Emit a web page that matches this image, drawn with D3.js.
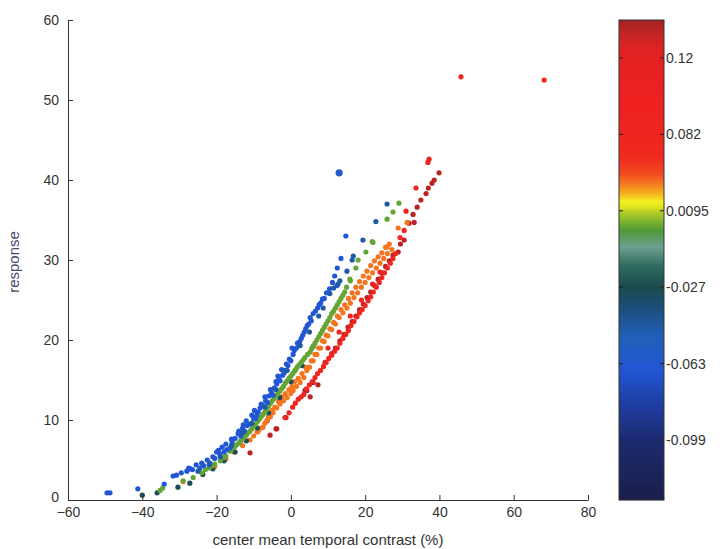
<!DOCTYPE html>
<html>
<head>
<meta charset="utf-8">
<script src="https://cdn.jsdelivr.net/npm/d3@7"></script>
<style>
  body { margin: 0; background: #fff; }
  svg text { font-family: "Liberation Sans", Arial, sans-serif; }
</style>
</head>
<body>
<svg id="chart" width="720" height="549"></svg>
<script>
// x ticks, y ticks, colorbar ticks
const xTicks = [-60, -40, -20, 0, 20, 40, 60, 80];
const yTicks = [0, 10, 20, 30, 40, 50, 60];
const cbTicks = [-0.099, -0.063, -0.027, 0.0095, 0.082, 0.12];
const cbLabels = ['-0.099', '-0.063', '-0.027', '0.0095', '0.082', '0.12'];

// colormap stops (value -> colour)
const cmapValues = [-0.127, -0.100, -0.080, -0.066, -0.050, -0.038, -0.027, -0.017, -0.008, 0.000, 0.004, 0.012, 0.018, 0.026, 0.035, 0.045, 0.060, 0.100, 0.125, 0.132, 0.139];
const cmapColors = ['#1a1f4a', '#1c2a6e', '#1f40a8', '#2156d4', '#2060b8', '#1d4f80', '#1b4a4c', '#2e6a5e', '#6e9e90', '#4e9a3a', '#7ab030', '#d8e020', '#f4f020', '#f4b020', '#f47a20', '#f24a20', '#f02a1e', '#ee2020', '#e02222', '#c42424', '#a02424'];

// scatter points [contrast %, response], grouped by colour value
const teal = [[-40,0.6],[-36,0.9],[-30.4,1.6],[-27.2,2.1],[-23.7,3.2],[-21,3.9],[-18,4.9],[-15,6.0],[-12,7.4],[-9,9.0],[-6,10.9],[-3,12.8],[0,14.8],[3,16.8],[6,19.2]];
const green = [[-35.2,1.2],[-34.5,1.5],[-29,2.4],[-26.3,2.8],[-24,3.4],[-23,3.8],[-22,4.0],[-21,4.3],[-20.5,4.5],[-19,4.9],[-18,5.3],[-17.5,5.5],[-16.4,6.1],[-16,6.4],[-15.2,6.6],[-14.6,6.9],[-14,7.1],[-13.5,7.4],[-13,7.6],[-12.5,7.9],[-12,8.1],[-11.5,8.4],[-11,8.6],[-10.5,8.9],[-10,9.2],[-9.5,9.5],[-9,9.8],[-8.5,10.1],[-8,10.4],[-7.5,10.7],[-7,11.0],[-6.5,11.3],[-6,11.7],[-5.5,12.1],[-5,12.4],[-4.5,12.7],[-4,13.0],[-3.5,13.3],[-3,13.6],[-2.5,13.9],[-2,14.2],[-1.5,14.6],[-1,14.9],[-0.5,15.2],[0,15.5],[0.5,15.8],[1,16.1],[1.3,16.3],[1.7,16.6],[2.2,16.9],[2.8,17.2],[3.3,17.5],[3.8,17.8],[4.5,18.2],[5.2,18.5],[5.6,18.9],[6,19.2],[6.5,19.6],[7,20.0],[7.5,20.4],[8,20.8],[8.5,21.2],[9,21.6],[9.5,22.0],[10,22.4],[10.5,22.8],[11,23.3],[11.5,23.6],[12,24.0],[12.5,24.4],[13,24.8],[13.5,25.2],[14,25.6],[14.5,26.0],[15,26.6],[16,27.4],[15.9,27.6],[17.5,29.0],[18.1,30],[20.2,31],[21.9,32.3],[22.1,32.2],[25.9,35.1],[27.5,36],[29.1,37.1]];
const blue = [[-49.5,0.9],[-48.7,0.9],[-41.2,1.4],[-34.1,2.0],[-31.7,3.0],[-30.8,3.1],[-29.5,3.4],[-28,3.6],[-27.5,4.0],[-27,3.9],[-26.5,3.8],[-25.5,4.4],[-24.5,4.0],[-24,4.6],[-23.5,4.3],[-22.5,5.0],[-21.8,4.6],[-21,5.4],[-20.5,5.2],[-20,6.0],[-19.5,6.2],[-19.1,5.7],[-18.5,6.6],[-18,6.0],[-17.5,7.0],[-17.2,6.3],[-16.4,6.5],[-16,7.6],[-15.8,7.2],[-15,7.7],[-14.2,8.3],[-14,8.6],[-13.5,8.0],[-13,9.0],[-12.8,9.4],[-12.5,8.6],[-12,9.9],[-11.8,9.3],[-11,9.5],[-10.5,10.6],[-10,10.2],[-9.8,11.2],[-9.5,10.2],[-9.2,10.6],[-8.8,11.0],[-8.3,11.5],[-8,12.0],[-7.5,11.8],[-7,12.9],[-6.8,12.4],[-6.3,12.2],[-6,13.0],[-5.5,13.8],[-5.2,13.4],[-4.8,13.1],[-4.5,14.0],[-4,14.8],[-3.8,14.5],[-3.5,15.5],[-3.2,15.2],[-2.9,14.9],[-2.5,16.3],[-2.2,15.6],[-1.8,15.9],[-1.5,16.2],[-1.2,17.0],[-0.8,16.8],[-0.4,17.6],[0,17.4],[0.3,19.0],[0.6,18.2],[0.9,18.7],[1.5,19.0],[1.8,19.6],[2.4,19.8],[2.8,20.2],[3.2,20.6],[3.6,21.0],[4.0,21.4],[4.4,21.8],[4.8,22.0],[5.2,22.8],[5.5,22.4],[6.0,23.3],[6.6,23.6],[7.2,24.0],[7.6,24.4],[8.0,24.6],[8.5,25.1],[9.0,25.2],[9.6,25.9],[10.4,26.4],[11.2,27.2],[11.8,28],[12.4,26.8],[12.5,29],[13.5,30.2],[14.8,33.0]];
const darkBlue = [[-25,3.6],[-22,4.4],[-19,5.4],[-16,6.8],[-13,8.4],[-10.5,9.6],[-7,11.6],[-4,13.8],[-1,16.2],[2.5,19.3],[5,21],[7.5,23],[8.7,24],[10.5,25.8],[11.5,26.5],[12.7,27],[13.2,27.4],[15.1,28.6],[16.5,30],[16.8,30.5],[19.4,32.5],[22.9,34.8],[25.9,37]];
const bigDot = [[13,40.9]];
const orange = [[-29,2.3],[-20.5,4.2],[-17.5,5.1],[-15.3,6.0],[-13,6.8],[-11,7.5],[-10,8.0],[-9.1,8.5],[-8.8,8.6],[-8,9.0],[-7.5,9.1],[-7,9.6],[-6.4,10],[-6,10.4],[-5.5,10.4],[-5,11.2],[-4.8,10.9],[-4.3,11.6],[-3.8,11.5],[-3.3,12.3],[-2.9,12],[-2.4,12.9],[-2,12.4],[-1.5,13.3],[-1,12.8],[-0.5,13.8],[0,13.3],[0.3,14.2],[0.6,13.7],[1,14.8],[1.5,14.2],[2,15.2],[2.5,14.7],[3,15.8],[3.5,15.3],[4,16.6],[4.3,16.2],[5,16.6],[5.5,17.4],[6,17.4],[6.5,18.2],[7,18.2],[7.5,19.0],[8,19.0],[8.5,19.9],[9,19.8],[9.5,20.6],[10,20.5],[10.5,21.4],[11,21.3],[11.5,22.2],[12,22.0],[12.5,23.0],[13,22.8],[13.5,23.8],[14,23.4],[14.5,24.4],[15.1,24],[15.5,25.2],[16,24.6],[16.5,25.9],[17,25.3],[17.5,26.6],[18,25.9],[18.5,27.3],[19,26.6],[19.5,28.0],[20,27.2],[20.5,28.6],[21,27.8],[21.5,29.3],[22,28.4],[22.5,29.9],[23,29.0],[23.5,30.4],[24,29.6],[24.5,30.9],[25,30.2],[25.5,31.6],[26,30.8],[26.5,32.0],[27.2,31.3],[25.9,31.6],[28.9,34],[31.3,34.7]];
const red = [[-1.6,10.3],[-0.5,10.9],[0.5,11.6],[1.2,12.1],[2,12.6],[2.8,12.9],[3.5,13.2],[4.2,13.9],[5,14.4],[5.8,14.8],[6.5,15.3],[7.2,15.8],[8,16.2],[8.8,16.7],[9.5,17.2],[10,19],[10.2,17.7],[11,18.1],[11.8,18.6],[12.5,19.0],[13,21],[13.2,19.6],[14,20.2],[14.8,20.7],[15.5,21.2],[16,23],[16.2,21.8],[17,22.3],[17.8,22.9],[18.5,23.4],[19,25],[19.2,23.8],[20,24.3],[20.8,24.9],[21.5,25.4],[22,27],[22.2,26.0],[23,26.6],[23.8,27.2],[24,28.5],[24.5,27.8],[25.2,28.4],[26,29.0],[26.8,29.6],[27.5,30.2],[28.2,30.8],[29.4,32.8],[30.5,33.7],[31,36.1],[33.7,39],[36.9,42.2],[37.2,42.6],[45.8,52.9],[68.2,52.5]];
const darkRed = [[-11,5.9],[-6.4,9.9],[-5.6,8.1],[-4,8.9],[-3.8,8.9],[-1.3,10.3],[3.8,13.7],[4.3,13.7],[5.2,12.9],[6,14.7],[7.3,14.4],[9.2,17.2],[11,18.3],[12,19],[13.2,19.9],[14.3,20.7],[15.4,21.6],[16.5,22.3],[17.5,23],[18.5,23.8],[19.5,24.5],[20.5,25.3],[21.5,26],[22.5,26.8],[23.5,27.6],[24.5,28.4],[25.5,29.2],[26.5,29.9],[27.5,30.6],[28.9,31],[29.5,32],[30.5,32.5],[31.8,34.6],[33.2,34.7],[32.9,35.7],[34,36.6],[35,37.5],[36.4,38.3],[37,39],[38,39.6],[38.6,40],[39.9,40.9]];

const series = [
  { pts: darkRed, c: 0.134, r: 2.6 },
  { pts: red, c: 0.08, r: 2.6 },
  { pts: orange, c: 0.036, r: 2.6 },
  { pts: teal, c: -0.03, r: 2.6 },
  { pts: green, c: 0.002, r: 2.6 },
  { pts: blue, c: -0.066, r: 2.6 },
  { pts: darkBlue, c: -0.046, r: 2.6 },
  { pts: bigDot, c: -0.06, r: 3.6 }
];

const svg = d3.select('#chart');
const x = d3.scaleLinear().domain([-60, 80]).range([68, 588]);
const y = d3.scaleLinear().domain([0, 60]).range([500, 20]);
const cmap = d3.scaleLinear().domain(cmapValues).range(cmapColors).clamp(true);

// points
series.forEach(s => {
  svg.append('g').selectAll('circle')
    .data(s.pts)
    .join('circle')
    .attr('cx', d => x(d[0]))
    .attr('cy', d => y(d[1]))
    .attr('r', s.r)
    .attr('fill', cmap(s.c));
});

// axes, MATLAB style ticks pointing in
const xAxis = svg.append('g')
  .attr('transform', 'translate(0,500)')
  .call(d3.axisBottom(x).tickValues(xTicks).tickSizeInner(-5).tickSizeOuter(0).tickPadding(7));
const yAxis = svg.append('g')
  .attr('transform', 'translate(68,0)')
  .call(d3.axisLeft(y).tickValues(yTicks).tickSizeInner(-5).tickSizeOuter(0).tickPadding(9));

[xAxis, yAxis].forEach(a => {
  a.select('.domain').attr('stroke', '#333').attr('stroke-width', 1);
  a.selectAll('.tick line').attr('stroke', '#333');
  a.selectAll('.tick text').attr('fill', '#333').style('font-size', '14px');
});
// the y "0" sits a little above its tick, as in the reference
yAxis.selectAll('.tick text').filter(d => d === 0).attr('dy', '0.1em');

svg.append('text')
  .attr('x', 328).attr('y', 545)
  .attr('text-anchor', 'middle')
  .attr('fill', '#333')
  .style('font-size', '15px')
  .text('center mean temporal contrast (%)');

svg.append('text')
  .attr('transform', 'translate(19,262) rotate(-90)')
  .attr('text-anchor', 'middle')
  .attr('fill', '#4a4a6a')
  .style('font-size', '15px')
  .text('response');

// colorbar
const cbLeft = 619, cbW = 45, cbTop = 20, cbBottom = 500;
const tickIdx = d3.scaleLinear().domain([0, cbTicks.length - 1]).range([440, 58]);
// value <-> position, piecewise over the tick labels
const cbPos = d3.scaleLinear().domain(cbTicks).range(cbTicks.map((d, i) => tickIdx(i)));
const cbRows = d3.range(cbTop, cbBottom);
svg.append('g').selectAll('rect')
  .data(cbRows)
  .join('rect')
  .attr('x', cbLeft).attr('y', d => d)
  .attr('width', cbW).attr('height', 1.2)
  .attr('fill', d => cmap(cbPos.invert(d + 0.5)));

svg.append('rect')
  .attr('x', cbLeft).attr('y', cbTop)
  .attr('width', cbW).attr('height', cbBottom - cbTop)
  .attr('fill', 'none').attr('stroke', '#333');

const cbTickG = svg.append('g').selectAll('g')
  .data(cbTicks)
  .join('g')
  .attr('transform', d => `translate(0,${cbPos(d)})`);
cbTickG.append('line').attr('x1', cbLeft).attr('x2', cbLeft + 4).attr('stroke', '#222');
cbTickG.append('line').attr('x1', cbLeft + cbW - 4).attr('x2', cbLeft + cbW).attr('stroke', '#222');
cbTickG.append('text')
  .attr('x', cbLeft + cbW + 2)
  .attr('dy', '0.35em')
  .attr('fill', '#333')
  .style('font-size', '14px')
  .text((d, i) => cbLabels[i]);
</script>
</body>
</html>
